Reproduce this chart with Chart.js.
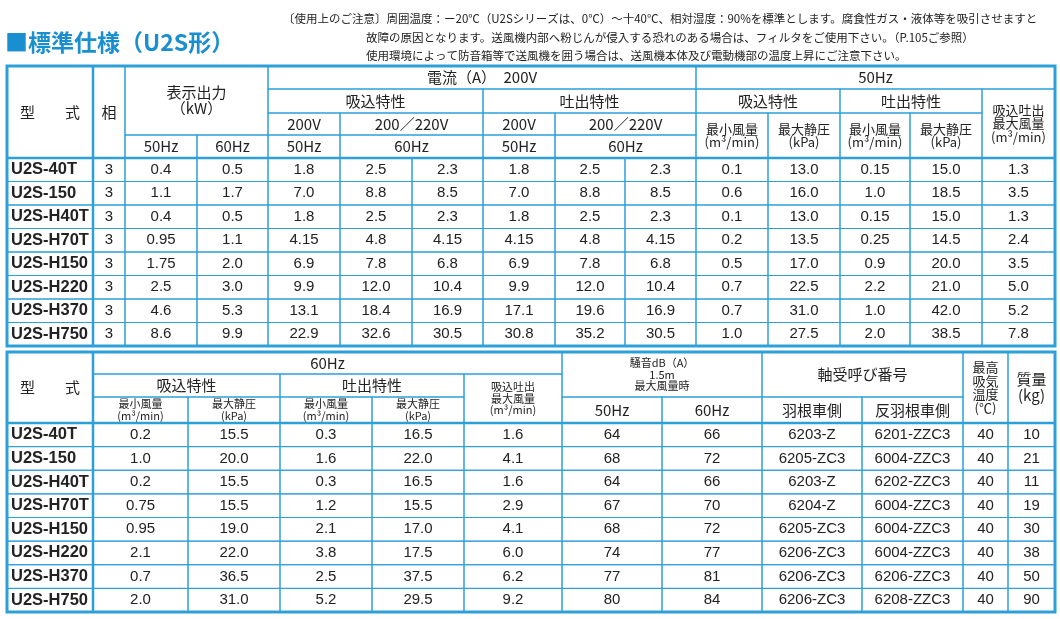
<!DOCTYPE html>
<html><head><meta charset="utf-8">
<script src="https://cdn.jsdelivr.net/npm/chart.js@4"></script>
<style>html,body{margin:0;padding:0;background:#fff}canvas{display:block}</style>
</head><body>
<canvas id="c" width="1060" height="619"></canvas>
<script>
const models=['U2S-40T','U2S-150','U2S-H40T','U2S-H70T','U2S-H150','U2S-H220','U2S-H370','U2S-H750'];
const phase=['3','3','3','3','3','3','3','3'];
const kw50=['0.4','1.1','0.4','0.95','1.75','2.5','4.6','8.6'];
const kw60=['0.5','1.7','0.5','1.1','2.0','3.0','5.3','9.9'];
const sucA50=['1.8','7.0','1.8','4.15','6.9','9.9','13.1','22.9'];
const sucA60a=['2.5','8.8','2.5','4.8','7.8','12.0','18.4','32.6'];
const sucA60b=['2.3','8.5','2.3','4.15','6.8','10.4','16.9','30.5'];
const disA50=['1.8','7.0','1.8','4.15','6.9','9.9','17.1','30.8'];
const disA60a=['2.5','8.8','2.5','4.8','7.8','12.0','19.6','35.2'];
const disA60b=['2.3','8.5','2.3','4.15','6.8','10.4','16.9','30.5'];
const s50min=['0.1','0.6','0.1','0.2','0.5','0.7','0.7','1.0'];
const s50kpa=['13.0','16.0','13.0','13.5','17.0','22.5','31.0','27.5'];
const d50min=['0.15','1.0','0.15','0.25','0.9','2.2','1.0','2.0'];
const d50kpa=['15.0','18.5','15.0','14.5','20.0','21.0','42.0','38.5'];
const max50=['1.3','3.5','1.3','2.4','3.5','5.0','5.2','7.8'];
const s60min=['0.2','1.0','0.2','0.75','0.95','2.1','0.7','2.0'];
const s60kpa=['15.5','20.0','15.5','15.5','19.0','22.0','36.5','31.0'];
const d60min=['0.3','1.6','0.3','1.2','2.1','3.8','2.5','5.2'];
const d60kpa=['16.5','22.0','16.5','15.5','17.0','17.5','37.5','29.5'];
const max60=['1.6','4.1','1.6','2.9','4.1','6.0','6.2','9.2'];
const noise50=['64','68','64','67','68','74','77','80'];
const noise60=['66','72','66','70','72','77','81','84'];
const bearImp=['6203-Z','6205-ZC3','6203-Z','6204-Z','6205-ZC3','6206-ZC3','6206-ZC3','6206-ZC3'];
const bearAnti=['6201-ZZC3','6004-ZZC3','6202-ZZC3','6004-ZZC3','6004-ZZC3','6004-ZZC3','6206-ZZC3','6208-ZZC3'];
const maxTemp=['40','40','40','40','40','40','40','40'];
const mass=['10','21','11','19','30','38','50','90'];

const title='■標準仕様（U2S形）';
const notes=[
 ['〔使用上のご注意〕周囲温度：ー20℃（U2Sシリーズは、0℃）～十40℃、相対湿度：90%を標準とします。腐食性ガス・液体等を吸引させますと',283,18],
 ['故障の原因となります。送風機内部へ粉じんが侵入する恐れのある場合は、フィルタをご使用下さい。（P.105ご参照）',366,37],
 ['使用環境によって防音箱等で送風機を囲う場合は、送風機本体及び電動機部の温度上昇にご注意下さい。',366,55]];

const t1cols=[7,93,125,197,268,340,412,483,555,625,696,768,840,910,982,1055];
const t1data=[models,phase,kw50,kw60,sucA50,sucA60a,sucA60b,disA50,disA60a,disA60b,s50min,s50kpa,d50min,d50kpa,max50];
const t1head=[
 [7,93,66,158,'型　　式'],[93,125,66,158,'相'],[125,268,66,135,'表示出力\n（kW）'],
 [125,197,135,158,'50Hz'],[197,268,135,158,'60Hz'],
 [268,696,66,89,'電流（A）　200V'],[696,1055,66,89,'50Hz'],
 [268,483,89,113,'吸込特性'],[483,696,89,113,'吐出特性'],[696,840,89,113,'吸込特性'],[840,982,89,113,'吐出特性'],
 [982,1055,89,158,'吸込吐出\n最大風量\n(m³/min)',13],
 [268,340,113,135,'200V'],[340,483,113,135,'200／220V'],[483,555,113,135,'200V'],[555,696,113,135,'200／220V'],
 [268,340,135,158,'50Hz'],[340,483,135,158,'60Hz'],[483,555,135,158,'50Hz'],[555,696,135,158,'60Hz'],
 [696,768,113,158,'最小風量\n(m³/min)',13],[768,840,113,158,'最大静圧\n(kPa)',13],
 [840,910,113,158,'最小風量\n(m³/min)',13],[910,982,113,158,'最大静圧\n(kPa)',13]];
const t2cols=[7,93,188,280,372,464,562,662,762,862,963,1008,1055];
const t2data=[models,s60min,s60kpa,d60min,d60kpa,max60,noise50,noise60,bearImp,bearAnti,maxTemp,mass];
const t2head=[
 [7,93,352,423,'型　　式'],[93,562,352,374,'60Hz'],
 [93,280,374,397,'吸込特性'],[280,464,374,397,'吐出特性'],[464,562,374,423,'吸込吐出\n最大風量\n(m³/min)',11],
 [93,188,397,423,'最小風量\n(m³/min)',11],[188,280,397,423,'最大静圧\n(kPa)',11],
 [280,372,397,423,'最小風量\n(m³/min)',11],[372,464,397,423,'最大静圧\n(kPa)',11],
 [562,762,352,397,'騒音dB（A）\n1.5m\n最大風量時',11],[562,662,397,423,'50Hz'],[662,762,397,423,'60Hz'],
 [762,963,352,397,'軸受呼び番号'],[762,862,397,423,'羽根車側'],[862,963,397,423,'反羽根車側'],
 [963,1008,352,423,'最高\n吸気\n温度\n(℃)',13],[1008,1055,352,423,'質量\n(kg)']];

const BLUE='#2d9fd9';
const FONT='"Noto Sans CJK JP","Liberation Sans",sans-serif';
const NFONT='"Liberation Sans","Noto Sans CJK JP",sans-serif';
const tablePlugin={id:'tbl',afterDraw(chart){
 const c=chart.ctx,X=v=>chart.scales.x.getPixelForValue(v),Y=v=>chart.scales.y.getPixelForValue(v);
 c.save();
 c.fillStyle='#1a8fd0';c.font='bold 23px '+FONT;c.textBaseline='alphabetic';c.textAlign='left';
 c.fillText(title,X(5),Y(51));
 c.fillStyle='#222';c.font='11.5px '+FONT;
 notes.forEach(n=>c.fillText(n[0],X(n[1]),Y(n[2]+5)));
 function cell(x0,x1,y0,y1,txt,size,bold,align,num){
  c.strokeStyle=BLUE;c.lineWidth=1;c.strokeRect(X(x0),Y(y0),X(x1)-X(x0),Y(y1)-Y(y0));
  const lines=String(txt).split('\n');size=size||15;
  c.fillStyle='#222';c.font=(bold?'bold ':'')+size+'px '+(num?NFONT:FONT);c.textBaseline='middle';
  c.textAlign=align||'center';
  const lh=size*1.05,cy=(Y(y0)+Y(y1))/2,xx=align==='left'?X(x0)+4:(X(x0)+X(x1))/2;
  lines.forEach((l,i)=>c.fillText(l,xx,cy+(i-(lines.length-1)/2)*lh));
 }
 function table(cols,data,head,top,hb,bottom){
  head.forEach(h=>cell(h[0],h[1],h[2],h[3],h[4],h[5]));
  const n=data[0].length,rh=(bottom-hb)/n;
  for(let r=0;r<n;r++)for(let k=0;k<data.length;k++)
   cell(cols[k],cols[k+1],hb+r*rh,hb+(r+1)*rh,data[k][r],k===0?16.5:15,k===0,k===0?'left':'center',true);
  c.strokeStyle=BLUE;c.lineWidth=3;
  c.strokeRect(X(cols[0]),Y(top),X(cols[cols.length-1])-X(cols[0]),Y(bottom)-Y(top));
  c.lineWidth=2.5;c.beginPath();
  c.moveTo(X(cols[0]),Y(hb));c.lineTo(X(cols[cols.length-1]),Y(hb));
  c.moveTo(X(cols[1]),Y(top));c.lineTo(X(cols[1]),Y(bottom));c.stroke();
 }
 table(t1cols,t1data,t1head,66,158,346);
 table(t2cols,t2data,t2head,352,423,612);
 c.restore();
}};
new Chart(document.getElementById('c'),{type:'scatter',
 data:{datasets:[{data:[]}]},
 options:{responsive:false,animation:false,devicePixelRatio:1,layout:{padding:0},
  plugins:{legend:{display:false},tooltip:{enabled:false}},
  scales:{x:{type:'linear',min:0,max:1060,display:false},y:{type:'linear',min:0,max:619,reverse:true,display:false}}},
 plugins:[tablePlugin]});
</script>
</body></html>
